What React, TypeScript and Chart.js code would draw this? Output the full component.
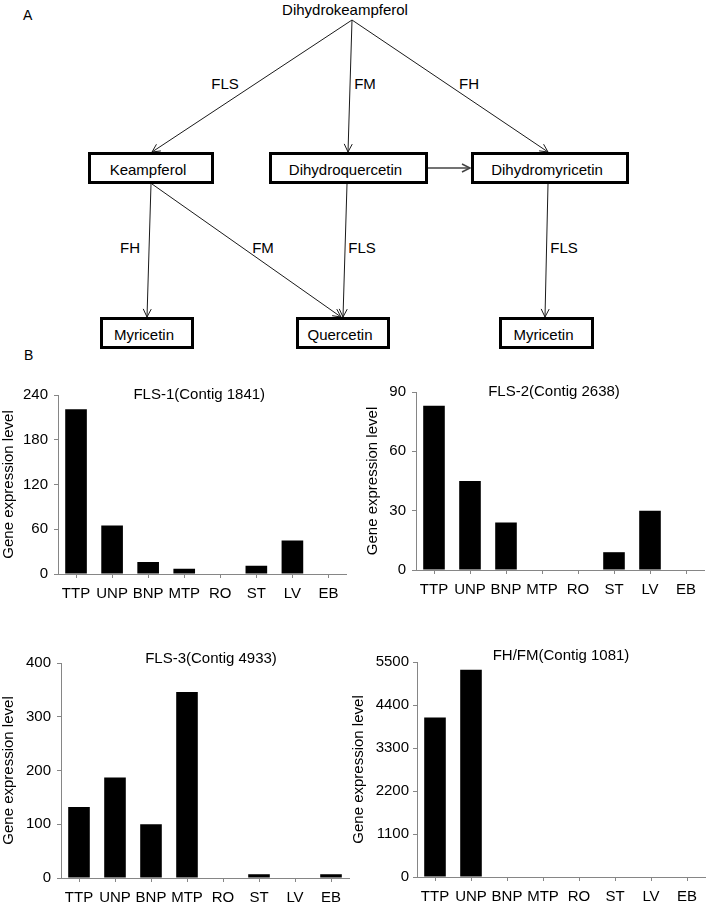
import React, { useEffect, useRef } from 'react';
import { Chart, registerables } from 'chart.js';

Chart.register(...registerables);

const FONT = '"Liberation Sans", Arial, Helvetica, sans-serif';

// ---- data ----
const categories = ['TTP', 'UNP', 'BNP', 'MTP', 'RO', 'ST', 'LV', 'EB'];
const fls1Values = [221, 65, 16, 7, 0, 11, 45, 0];
const fls2Values = [83, 45, 24, 0, 0, 9, 30, 0];
const fls3Values = [132, 187, 100, 346, 0, 7, 0, 7];
const fhfmValues = [4080, 5300, 0, 0, 0, 0, 0, 0];
const fls1Ticks = [0, 60, 120, 180, 240];
const fls2Ticks = [0, 30, 60, 90];
const fls3Ticks = [0, 100, 200, 300, 400];
const fhfmTicks = [0, 1100, 2200, 3300, 4400, 5500];
const yAxisTitle = 'Gene expression level';

type PanelCfg = {
  title: string;
  values: number[];
  ticks: number[];
  left: number; top: number; width: number; height: number;
  yAxisWidth: number; xAxisHeight: number;
  padTop: number; padBottom: number; padRight: number;
  yTickPad: number; yTitlePad: number;
  titleDx: number; titleDy: number;
};

const panels: PanelCfg[] = [
  { title: 'FLS-1(Contig 1841)', values: fls1Values, ticks: fls1Ticks,
    left: 0, top: 360, width: 354, height: 270, yAxisWidth: 58, xAxisHeight: 40,
    padTop: 35, padBottom: 16, padRight: 7.5, yTickPad: 6, yTitlePad: 0, titleDx: -3, titleDy: 4.4 },
  { title: 'FLS-2(Contig 2638)', values: fls2Values, ticks: fls2Ticks,
    left: 354, top: 360, width: 354, height: 270, yAxisWidth: 62, xAxisHeight: 40,
    padTop: 32, padBottom: 20, padRight: 4, yTickPad: 6, yTitlePad: 10, titleDx: -6, titleDy: 4.4 },
  { title: 'FLS-3(Contig 4933)', values: fls3Values, ticks: fls3Ticks,
    left: 0, top: 630, width: 354, height: 276, yAxisWidth: 61, xAxisHeight: 28,
    padTop: 33, padBottom: 0, padRight: 5, yTickPad: 6, yTitlePad: 0, titleDx: 6, titleDy: 0.4 },
  { title: 'FH/FM(Contig 1081)', values: fhfmValues, ticks: fhfmTicks,
    left: 346, top: 630, width: 362, height: 276, yAxisWidth: 71, xAxisHeight: 29,
    padTop: 32, padBottom: 0, padRight: 3, yTickPad: 4, yTitlePad: 3.5, titleDx: 0, titleDy: -1.6 },
];

const AXIS = '#868686';

const titlePlugin = {
  id: 'panelTitle',
  afterDraw(chart: any, _args: any, opts: any) {
    const { ctx, chartArea } = chart;
    ctx.save();
    ctx.font = `15px ${FONT}`;
    ctx.fillStyle = '#000';
    ctx.textAlign = 'center';
    ctx.textBaseline = 'alphabetic';
    ctx.fillText(opts.text, (chartArea.left + chartArea.right) / 2 + opts.dx, chartArea.top + opts.dy);
    ctx.restore();
  },
};

function Panel({ cfg }: { cfg: PanelCfg }) {
  const ref = useRef<HTMLCanvasElement>(null);
  useEffect(() => {
    const t = cfg.ticks;
    const chart = new Chart(ref.current as HTMLCanvasElement, {
      type: 'bar',
      data: {
        labels: categories,
        datasets: [{
          data: cfg.values,
          backgroundColor: '#000000',
          borderWidth: 0,
          categoryPercentage: 1,
          barPercentage: 0.6,
        }],
      },
      options: {
        responsive: false,
        animation: false,
        events: [],
        layout: { padding: { left: 0, right: cfg.padRight, top: cfg.padTop, bottom: cfg.padBottom } },
        plugins: {
          legend: { display: false },
          tooltip: { enabled: false },
          title: { display: false },
          panelTitle: { text: cfg.title, dx: cfg.titleDx, dy: cfg.titleDy },
        } as any,
        scales: {
          x: {
            type: 'category',
            offset: true,
            grid: { display: true, drawOnChartArea: false, drawTicks: true, tickLength: 4, offset: false, color: AXIS, lineWidth: 1 },
            border: { display: true, color: AXIS, width: 1 },
            ticks: { color: '#000', font: { size: 15, family: FONT }, padding: 7, autoSkip: false, maxRotation: 0, minRotation: 0 },
            afterFit: (s: any) => { s.height = cfg.xAxisHeight; },
          },
          y: {
            min: t[0],
            max: t[t.length - 1],
            ticks: {
              stepSize: t[1] - t[0], color: '#000', font: { size: 15, family: FONT }, padding: cfg.yTickPad,
              callback: (v: any) => String(v),
            },
            grid: { display: true, drawOnChartArea: false, drawTicks: true, tickLength: 4, color: AXIS, lineWidth: 1 },
            border: { display: true, color: AXIS, width: 1 },
            title: { display: true, text: yAxisTitle, color: '#000', font: { size: 15, family: FONT }, padding: { top: cfg.yTitlePad, bottom: 0 } },
            afterFit: (s: any) => { s.width = cfg.yAxisWidth; },
          },
        },
      },
      plugins: [titlePlugin],
    } as any);
    return () => chart.destroy();
  }, []);
  return (
    <canvas
      ref={ref}
      width={cfg.width}
      height={cfg.height}
      style={{ position: 'absolute', left: cfg.left, top: cfg.top, width: cfg.width, height: cfg.height }}
    />
  );
}

function Arrow({ x1, y1, x2, y2, color = '#1a1a1a', w = 1, head = 8, spread = 4 }:
  { x1: number; y1: number; x2: number; y2: number; color?: string; w?: number; head?: number; spread?: number }) {
  const dx = x2 - x1, dy = y2 - y1;
  const L = Math.hypot(dx, dy);
  const ux = dx / L, uy = dy / L;
  const bx = x2 - ux * head, by = y2 - uy * head;
  const px = -uy * spread, py = ux * spread;
  return (
    <g stroke={color} strokeWidth={w} fill="none">
      <line x1={x1} y1={y1} x2={x2} y2={y2} />
      <polyline points={`${bx + px},${by + py} ${x2},${y2} ${bx - px},${by - py}`} />
    </g>
  );
}

function Box({ x1, y1, x2, y2, label }: { x1: number; y1: number; x2: number; y2: number; label: string }) {
  return (
    <g>
      <rect x={x1 + 1.5} y={y1 + 1.5} width={x2 - x1 - 3} height={y2 - y1 - 3} fill="#fff" stroke="#000" strokeWidth={3} />
      <text x={(x1 + x2) / 2 - 3} y={(y1 + y2) / 2 + 6.5} textAnchor="middle" fontSize={15} fontFamily={FONT} fill="#000">{label}</text>
    </g>
  );
}

function Pathway() {
  const T = (x: number, y: number, s: string, anchor: any = 'middle', size = 15) => (
    <text x={x} y={y} textAnchor={anchor} fontSize={size} fontFamily={FONT} fill="#000">{s}</text>
  );
  return (
    <svg width={708} height={362} style={{ position: 'absolute', left: 0, top: 0 }}>
      {T(23, 20, 'A', 'start', 14)}
      {T(345, 15, 'Dihydrokeampferol')}
      <Arrow x1={352} y1={20} x2={152} y2={152} />
      <Arrow x1={352} y1={20} x2={348} y2={152} />
      <Arrow x1={352} y1={20} x2={548} y2={152} />
      {T(225, 89, 'FLS')}
      {T(365, 89, 'FM')}
      {T(469, 89, 'FH')}
      <Arrow x1={151} y1={184} x2={147} y2={317} />
      <Arrow x1={152} y1={184} x2={341} y2={317} />
      <Arrow x1={347} y1={184} x2={343} y2={317} />
      <Arrow x1={548} y1={184} x2={545} y2={317} />
      <Arrow x1={428} y1={168} x2={470} y2={168} color="#444" w={1.5} />
      <Box x1={88} y1={152} x2={214} y2={184} label="Keampferol" />
      <Box x1={269} y1={152} x2={428} y2={184} label="Dihydroquercetin" />
      <Box x1={471} y1={152} x2={629} y2={184} label="Dihydromyricetin" />
      {T(130, 253, 'FH')}
      {T(263, 253, 'FM')}
      {T(362, 253, 'FLS')}
      {T(564, 253, 'FLS')}
      <Box x1={100} y1={317} x2={194} y2={349} label="Myricetin" />
      <Box x1={296} y1={317} x2={390} y2={349} label="Quercetin" />
      <Box x1={499} y1={317} x2={594} y2={349} label="Myricetin" />
      {T(24, 360, 'B', 'start', 14)}
    </svg>
  );
}

export default function App() {
  return (
    <div style={{ position: 'absolute', left: 0, top: 0, width: 708, height: 906, background: '#fff', overflow: 'hidden' }}>
      <Pathway />
      {panels.map((p) => <Panel key={p.title} cfg={p} />)}
    </div>
  );
}
